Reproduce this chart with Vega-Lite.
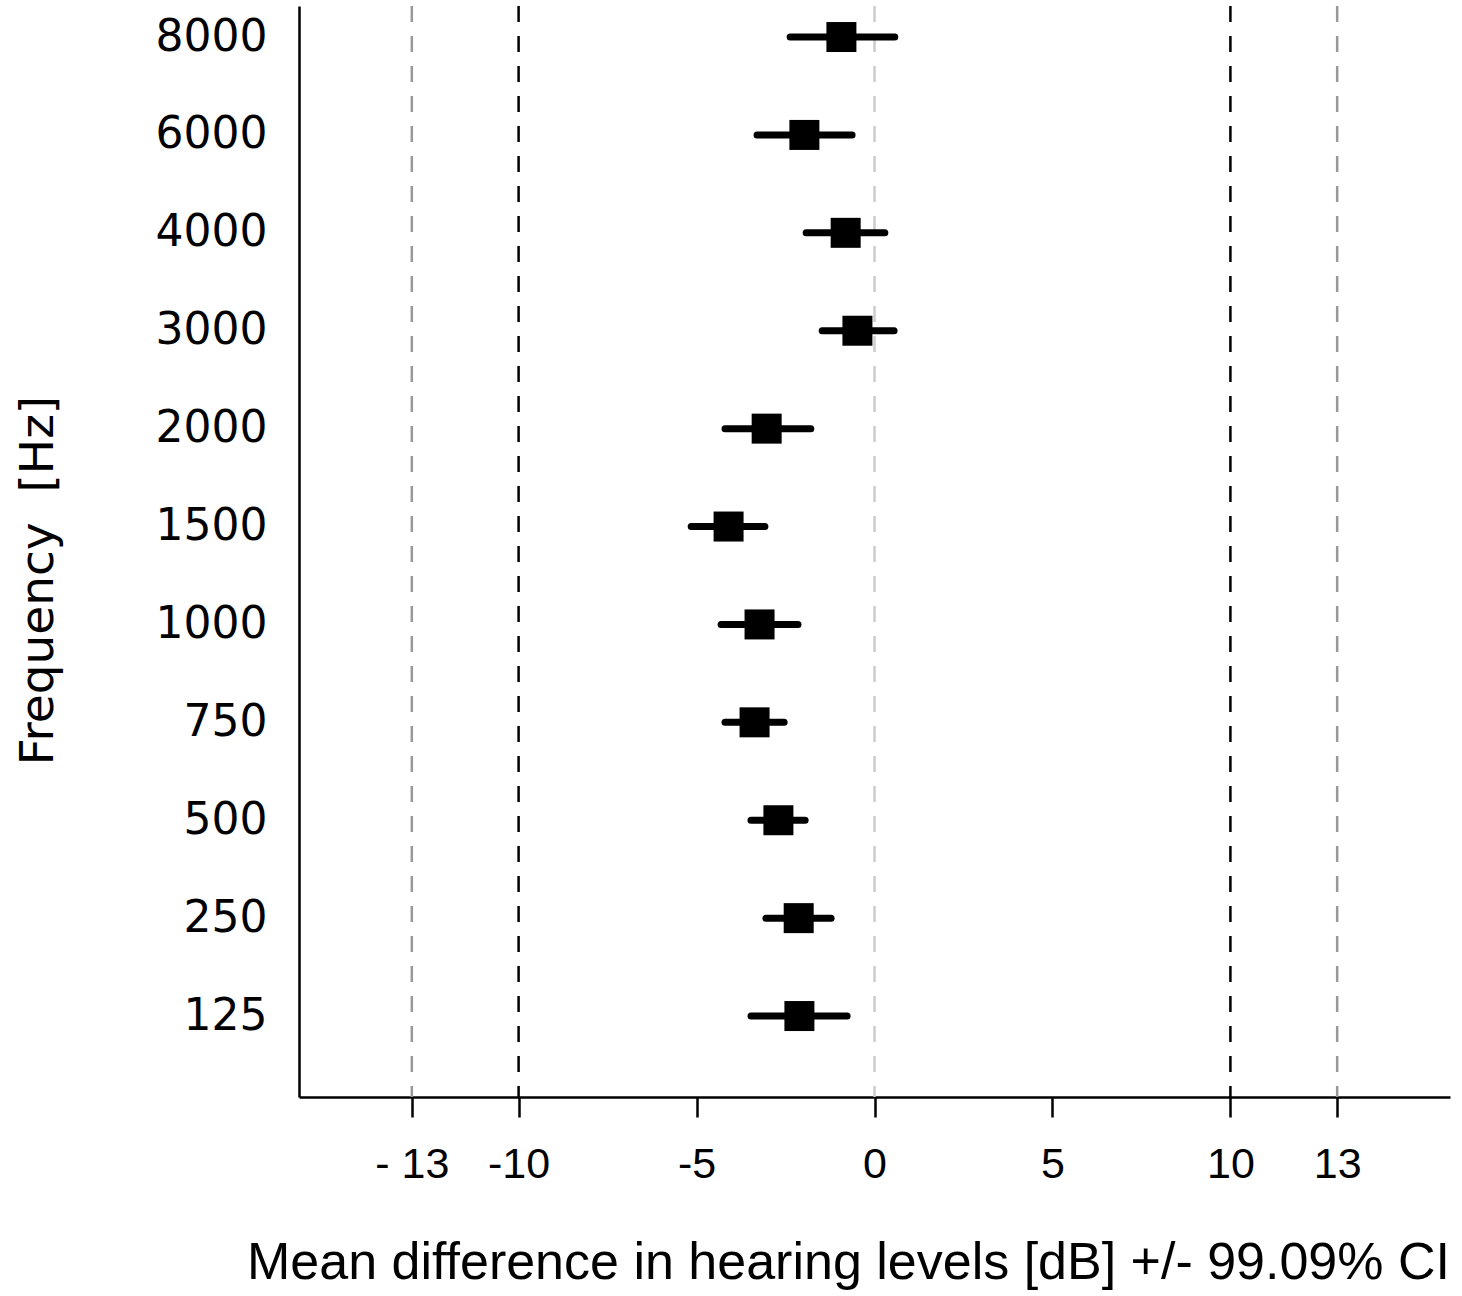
{
  "$schema": "https://vega.github.io/schema/vega-lite/v6.json",
  "width": 1151,
  "height": 1091,
  "autosize": "none",
  "padding": {"left": 299, "top": 6, "right": 12, "bottom": 199},
  "background": "white",
  "config": {
    "view": {"stroke": null},
    "axis": {
      "grid": false,
      "domainColor": "black",
      "domainWidth": 2.5,
      "labelColor": "black",
      "titleColor": "black",
      "titleFontWeight": "normal"
    }
  },
  "datasets": {
    "refs": [
      {"x": -13, "kind": "outer"},
      {"x": 13, "kind": "outer"},
      {"x": -10, "kind": "inner"},
      {"x": 10, "kind": "inner"},
      {"x": 0, "kind": "zero"}
    ],
    "freq": [
      {"rank": 11, "freq": "8000", "mean": -0.93, "lo": -2.37, "hi": 0.57},
      {"rank": 10, "freq": "6000", "mean": -1.97, "lo": -3.30, "hi": -0.63},
      {"rank": 9, "freq": "4000", "mean": -0.81, "lo": -1.92, "hi": 0.29},
      {"rank": 8, "freq": "3000", "mean": -0.48, "lo": -1.47, "hi": 0.55},
      {"rank": 7, "freq": "2000", "mean": -3.03, "lo": -4.20, "hi": -1.79},
      {"rank": 6, "freq": "1500", "mean": -4.10, "lo": -5.15, "hi": -3.08},
      {"rank": 5, "freq": "1000", "mean": -3.23, "lo": -4.31, "hi": -2.15},
      {"rank": 4, "freq": "750", "mean": -3.37, "lo": -4.20, "hi": -2.54},
      {"rank": 3, "freq": "500", "mean": -2.70, "lo": -3.47, "hi": -1.95},
      {"rank": 2, "freq": "250", "mean": -2.13, "lo": -3.05, "hi": -1.22},
      {"rank": 1, "freq": "125", "mean": -2.11, "lo": -3.47, "hi": -0.77}
    ]
  },
  "layer": [
    {
      "data": {"name": "refs"},
      "mark": {"type": "rule", "strokeDash": [16, 14], "strokeWidth": 2.5},
      "encoding": {
        "x": {
          "field": "x",
          "type": "quantitative",
          "scale": {"domain": [-16.17, 16.17], "nice": false, "zero": false},
          "axis": {
            "values": [-13, -10, -5, 0, 5, 10, 13],
            "labelExpr": "datum.value == -13 ? '- 13' : (datum.value < 0 ? '-' + abs(datum.value) : '' + datum.value)",
            "tickSize": 20,
            "tickWidth": 2.5,
            "tickColor": "black",
            "labelFont": "Liberation Sans",
            "labelFontSize": 43,
            "labelBaseline": "alphabetic",
            "labelPadding": 60,
            "title": "Mean difference in hearing levels [dB] +/- 99.09% CI",
            "titleFont": "Liberation Sans",
            "titleFontSize": 52,
            "titleBaseline": "alphabetic",
            "titleX": 549,
            "titleY": 181
          }
        },
        "color": {
          "field": "kind",
          "type": "nominal",
          "scale": {"domain": ["outer", "inner", "zero"], "range": ["#999999", "#000000", "#cccccc"]},
          "legend": null
        }
      }
    },
    {
      "data": {"name": "freq"},
      "mark": {"type": "rule", "strokeWidth": 7, "strokeCap": "round", "color": "black"},
      "encoding": {
        "x": {"field": "lo", "type": "quantitative"},
        "x2": {"field": "hi"},
        "y": {
          "field": "rank",
          "type": "quantitative",
          "scale": {"domain": [0.173, 11.317], "nice": false, "zero": false},
          "axis": {
            "values": [1, 2, 3, 4, 5, 6, 7, 8, 9, 10, 11],
            "labelExpr": "['', '125', '250', '500', '750', '1000', '1500', '2000', '3000', '4000', '6000', '8000'][datum.value]",
            "ticks": false,
            "labelFont": "DejaVu Sans",
            "labelFontSize": 44,
            "labelPadding": 32,
            "title": "Frequency\u00a0 [Hz]",
            "titleFont": "DejaVu Sans",
            "titleFontSize": 47,
            "titleBaseline": "alphabetic",
            "titleX": -247,
            "titleY": 574
          }
        }
      }
    },
    {
      "data": {"name": "freq"},
      "mark": {"type": "point", "shape": "square", "filled": true, "size": 900, "color": "black", "opacity": 1},
      "encoding": {
        "x": {"field": "mean", "type": "quantitative"},
        "y": {"field": "rank", "type": "quantitative"}
      }
    }
  ]
}
